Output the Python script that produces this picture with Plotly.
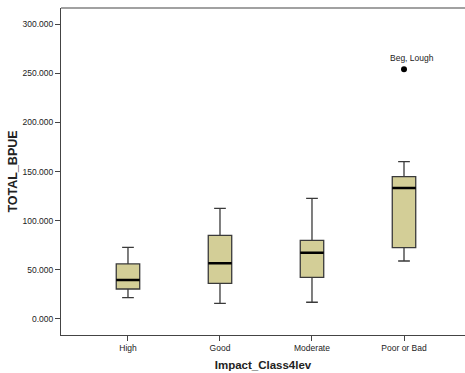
import plotly.graph_objects as go

categories = ["High", "Good", "Moderate", "Poor or Bad"]
q1 = [30.5, 36.2, 42.4, 72.5]
median = [39.7, 56.6, 67.5, 133.3]
q3 = [56.0, 85.1, 80.0, 144.8]
lower = [21.7, 15.9, 17.0, 59.0]
upper = [72.9, 112.6, 122.8, 160.0]
outlier_cat = ["Poor or Bad"]
outlier_val = [254.0]
outlier_label = ["Beg, Lough"]
y_ticks = [0, 50, 100, 150, 200, 250, 300]

fig = go.Figure()
fig.add_trace(go.Box(
    x=categories, q1=q1, median=median, q3=q3,
    lowerfence=lower, upperfence=upper,
    fillcolor="#D3CE97", line=dict(color="#3a3a3a", width=1.3),
    width=0.255, whiskerwidth=0.5, boxpoints=False, hoverinfo="skip",
    showlegend=False,
))
# thick black median lines
fig.add_trace(go.Box(
    x=categories, q1=median, median=median, q3=median,
    lowerfence=median, upperfence=median,
    fillcolor="rgba(0,0,0,0)", line=dict(color="#000000", width=2.5),
    width=0.255, whiskerwidth=0, boxpoints=False, hoverinfo="skip",
    showlegend=False,
))
fig.add_trace(go.Scatter(
    x=outlier_cat, y=outlier_val, mode="markers",
    marker=dict(color="black", size=6), showlegend=False, hoverinfo="skip",
))
for c, v, t in zip(outlier_cat, outlier_val, outlier_label):
    fig.add_annotation(x=c, y=v, text=t, showarrow=False, xshift=8, yshift=11,
                       font=dict(family="Liberation Sans, Arial", size=8.5, color="#222"))

fig.add_shape(type="line", xref="paper", yref="paper", x0=0, x1=1, y0=1, y1=1,
              line=dict(color="#444", width=1.2))

fig.update_layout(
    width=465, height=373,
    margin=dict(l=61, r=0, t=8, b=38),
    paper_bgcolor="white", plot_bgcolor="white",
    boxmode="overlay",
    font=dict(family="Liberation Sans, Arial", size=8.5, color="#222"),
)
fig.update_xaxes(
    type="category", categoryorder="array", categoryarray=categories,
    range=[-0.728, 3.663], showgrid=False, zeroline=False,
    showline=True, linecolor="#444", linewidth=1.2,
    ticks="outside", ticklen=5, tickcolor="#444",
    title=dict(text="<b>Impact_Class4lev</b>", font=dict(size=11.5, color="#222"), standoff=8),
)
fig.update_yaxes(
    range=[-16.3, 316.4], tickvals=y_ticks, tickformat=".3f",
    showgrid=False, zeroline=False,
    showline=True, linecolor="#444", linewidth=1.2,
    ticks="outside", ticklen=5, tickcolor="#444",
    title=dict(text="<b>TOTAL_BPUE</b>", font=dict(size=12.5, color="#222"), standoff=2),
)
fig.write_html("out.html")
